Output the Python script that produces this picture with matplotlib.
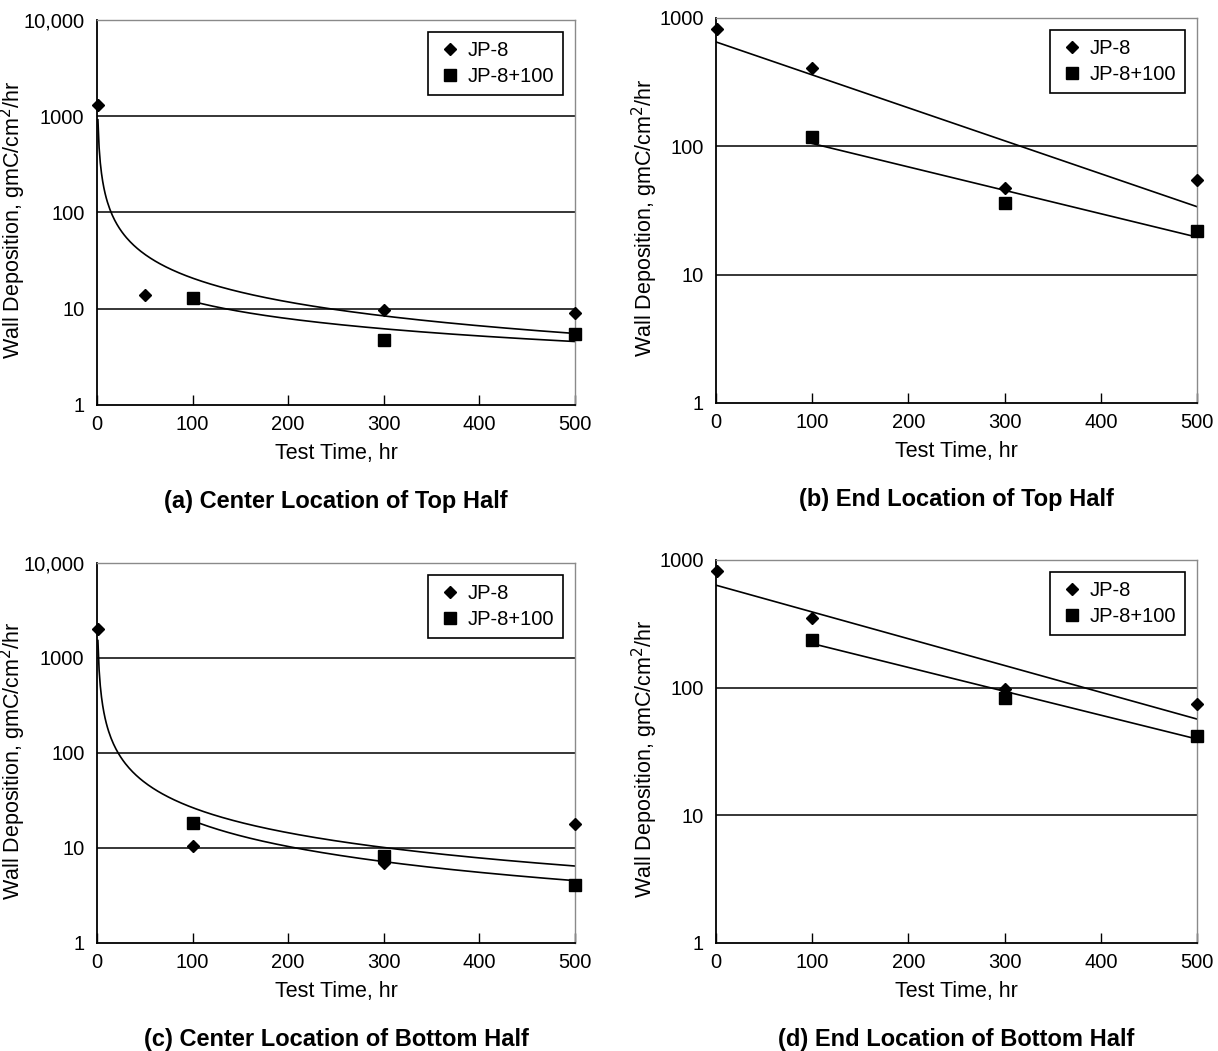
import numpy as np
import matplotlib
matplotlib.use('Agg')
import matplotlib.pyplot as plt
from matplotlib.ticker import FixedLocator, NullLocator

plt.rcParams['font.family'] = ['Liberation Sans', 'DejaVu Sans']

# panel (a) center location of top half
a_jp8_t = [1, 50, 300, 500]
a_jp8_y = [1300, 14, 9.6, 9.0]
a_jp8p_t = [100, 300, 500]
a_jp8p_y = [13, 4.7, 5.5]

# panel (b) end location of top half
b_jp8_t = [1, 100, 300, 500]
b_jp8_y = [820, 410, 47, 55]
b_jp8p_t = [100, 300, 500]
b_jp8p_y = [118, 36, 22]

# panel (c) center location of bottom half
c_jp8_t = [1, 100, 300, 500]
c_jp8_y = [2000, 10.5, 7.0, 18]
c_jp8p_t = [100, 300, 500]
c_jp8p_y = [18.5, 8.3, 4.1]

# panel (d) end location of bottom half
d_jp8_t = [1, 100, 300, 500]
d_jp8_y = [820, 350, 97, 75]
d_jp8p_t = [100, 300, 500]
d_jp8p_y = [235, 83, 42]

captions = ['(a) Center Location of Top Half', '(b) End Location of Top Half',
            '(c) Center Location of Bottom Half', '(d) End Location of Bottom Half']


def power_fit(t, y):
    # trendline y = A * t^b, fitted in log-log space
    b, a = np.polyfit(np.log10(t), np.log10(y), 1)
    tt = np.linspace(min(t), max(t), 400)
    return tt, 10 ** (a + b * np.log10(tt))


def expo_fit(t, y):
    # trendline y = A * exp(k t), fitted in semi-log space
    k, a = np.polyfit(t, np.log10(y), 1)
    tt = np.linspace(0 if min(t) <= 1 else min(t), max(t), 100)
    return tt, 10 ** (a + k * tt)


def draw_panel(ax, jp8, jp8p, fit, ymax, caption, ylab_x):
    (t1, y1), (t2, y2) = jp8, jp8p
    for t, y in (jp8, jp8p):
        xx, yy = fit(t, y)
        ax.plot(xx, yy, color='black', lw=1.2, zorder=2)
    ax.plot(t1, y1, 'D', color='black', ms=6.5, ls='none', label='JP-8', zorder=3, clip_on=False)
    ax.plot(t2, y2, 's', color='black', ms=8, ls='none', label='JP-8+100', zorder=3, clip_on=False)
    ax.set_yscale('log')
    ax.set_xlim(0, 500)
    ax.set_ylim(1, ymax)
    decades = [10 ** i for i in range(int(np.log10(ymax)) + 1)]
    ax.yaxis.set_major_locator(FixedLocator(decades))
    ax.yaxis.set_minor_locator(NullLocator())
    ax.set_yticklabels([f'{d:,}' if d >= 10000 else str(d) for d in decades])
    for d in decades[1:-1]:
        ax.axhline(d, color='black', lw=1.1, zorder=1)
    ax.set_xticks([0, 100, 200, 300, 400, 500])
    ax.tick_params(axis='x', direction='in', length=7, width=1, labelsize=14.5, pad=7)
    ax.tick_params(axis='y', length=0, labelsize=14.5, pad=9)
    for side in ('top', 'right'):
        ax.spines[side].set_color('#8a8a8a')
        ax.spines[side].set_linewidth(1)
    for side in ('left', 'bottom'):
        ax.spines[side].set_color('black')
        ax.spines[side].set_linewidth(1.3)
    ax.set_xlabel('Test Time, hr', fontsize=15.5, labelpad=7)
    ax.set_ylabel('Wall Deposition, gmC/cm$^2$/hr', fontsize=15.5)
    ax.yaxis.set_label_coords(ylab_x, 0.48)
    leg = ax.legend(loc='upper right', bbox_to_anchor=(0.975, 0.969), fontsize=14.5,
                    frameon=True, fancybox=False, edgecolor='black', framealpha=1,
                    handletextpad=0.2, handlelength=1.3, borderpad=0.45, labelspacing=0.35,
                    borderaxespad=0)
    leg.get_frame().set_linewidth(1.2)
    pos = ax.get_position()
    fig.text((pos.x0 + pos.x1) / 2, pos.y0 - 0.0923, caption, ha='center', va='center',
             fontsize=17, fontweight='bold')


fig = plt.figure(figsize=(12.18, 10.51), dpi=100, facecolor='white')
ax_a = fig.add_axes([0.0796, 0.6147, 0.3925, 0.3663])
ax_b = fig.add_axes([0.5879, 0.6166, 0.3949, 0.3663])
ax_c = fig.add_axes([0.0796, 0.1028, 0.3925, 0.3616])
ax_d = fig.add_axes([0.5879, 0.1028, 0.3949, 0.3644])

draw_panel(ax_a, (a_jp8_t, a_jp8_y), (a_jp8p_t, a_jp8p_y), power_fit, 10000, captions[0], -0.144)
draw_panel(ax_b, (b_jp8_t, b_jp8_y), (b_jp8p_t, b_jp8p_y), expo_fit, 1000, captions[1], -0.116)
draw_panel(ax_c, (c_jp8_t, c_jp8_y), (c_jp8p_t, c_jp8p_y), power_fit, 10000, captions[2], -0.144)
draw_panel(ax_d, (d_jp8_t, d_jp8_y), (d_jp8p_t, d_jp8p_y), expo_fit, 1000, captions[3], -0.116)

fig.savefig('out.png', dpi=100, facecolor='white')
